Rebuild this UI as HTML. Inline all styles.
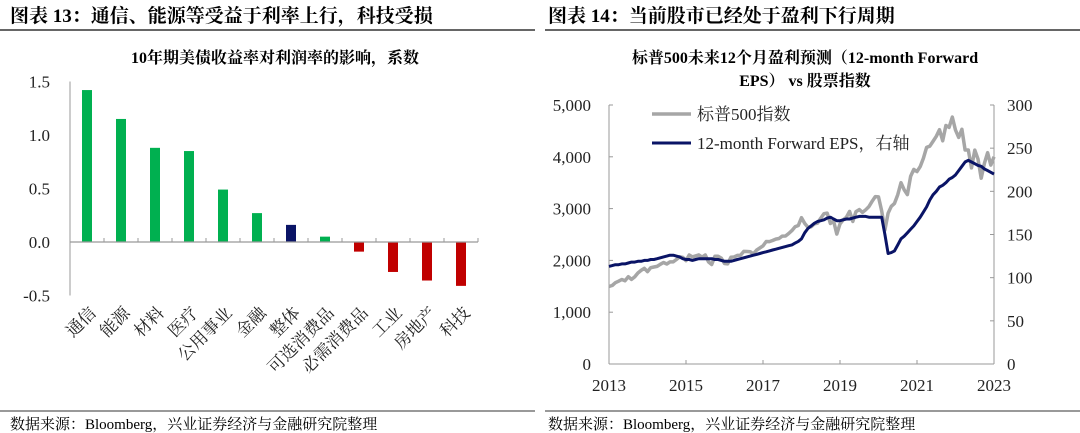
<!DOCTYPE html>
<html><head><meta charset="utf-8"><style>
body{margin:0;background:#fff;width:1080px;height:433px;overflow:hidden}
svg{display:block;font-family:"Liberation Serif","Noto Serif CJK SC",serif}
</style></head><body>
<svg width="1080" height="433" viewBox="0 0 1080 433">
<g>
<text x="10" y="22" font-size="19" font-weight="bold" fill="#000">图表 13：通信、能源等受益于利率上行，科技受损</text>
<line x1="0" y1="30" x2="535" y2="30" stroke="#333" stroke-width="1.5"/>
<text x="275" y="63" font-size="16" font-weight="bold" text-anchor="middle">10年期美债收益率对利润率的影响，系数</text>
<g id="barChart"></g>
<line x1="0" y1="411" x2="535" y2="411" stroke="#333" stroke-width="1"/>
<text x="10" y="429" font-size="15">数据来源：Bloomberg，兴业证券经济与金融研究院整理</text>
</g>
<g>
<text x="548" y="22" font-size="19" font-weight="bold">图表 14：当前股市已经处于盈利下行周期</text>
<line x1="545" y1="30" x2="1080" y2="30" stroke="#333" stroke-width="1.5"/>
<text x="805" y="63" font-size="16" font-weight="bold" text-anchor="middle">标普500未来12个月盈利预测（12-month Forward</text>
<text x="805" y="86" font-size="16" font-weight="bold" text-anchor="middle">EPS） vs 股票指数</text>
<g id="lineChart"></g>
<line x1="545" y1="411" x2="1080" y2="411" stroke="#333" stroke-width="1"/>
<text x="548" y="429" font-size="15">数据来源：Bloomberg，兴业证券经济与金融研究院整理</text>
</g>
</svg>
<script>
const barCategories=["通信","能源","材料","医疗","公用事业","金融","整体","可选消费品","必需消费品","工业","房地产","科技"];
const barValues=[1.42,1.15,0.88,0.85,0.49,0.27,0.16,0.05,-0.09,-0.28,-0.36,-0.41];
const barTicks=[1.5,1.0,0.5,0.0,-0.5];

const years=[2013,2015,2017,2019,2021,2023];
const leftTicks=[0,1000,2000,3000,4000,5000];
const rightTicks=[0,50,100,150,200,250,300];
const spx=[1498,1515,1569,1598,1631,1606,1686,1633,1682,1757,1806,1848,
1783,1859,1872,1884,1924,1960,1931,1972,1972,2018,2068,2059,
1995,2105,2068,2086,2107,2063,2104,1972,1920,2079,2080,2044,
1940,1932,2060,2065,2097,2099,2174,2171,2168,2126,2199,2239,
2279,2364,2363,2384,2412,2423,2470,2472,2519,2575,2648,2674,
2824,2714,2641,2648,2705,2718,2816,2902,2914,2712,2760,2507,
2704,2784,2834,2946,2752,2942,2980,2926,2977,3038,3141,3231,
3226,2954,2585,2912,3044,3100,3271,3500,3363,3270,3622,3756,
3714,3811,3973,4181,4204,4298,4395,4523,4308,4605,4567,4766,
4516,4374,4530,4132,4132,3785,4130,3955,3586,3872,4080,3840,4000];
const eps=[113,114,115,115,116,116,117,118,118,119,119,120,
120,121,121,122,123,124,125,126,126,125,124,122,
121,121,120,121,122,122,122,122,122,121,121,120,
119,119,119,120,121,122,123,124,125,126,127,128,
129,130,131,132,133,134,135,136,137,138,140,142,
145,152,157,160,163,165,166,167,169,170,168,166,
166,167,168,168,169,170,171,171,171,170,170,170,
170,170,150,128,129,131,138,145,148,152,156,160,
165,170,176,182,190,196,200,205,207,210,214,216,
219,224,229,234,236,234,232,230,229,226,224,222,220];

const NS="http://www.w3.org/2000/svg";
function mk(p,t,a){const e=document.createElementNS(NS,t);for(const k in a)e.setAttribute(k,a[k]);p.appendChild(e);return e;}

// Bar chart
(function(){
const g=document.getElementById('barChart');
const x0=70,x1=478,yZero=242,pxPer=107;
const y=v=>yZero-v*pxPer;
const bw=(x1-x0)/barCategories.length;
const ax=mk(g,'line',{x1:x0,y1:y(1.5),x2:x0,y2:y(-0.5),stroke:'#999','stroke-width':1});


barTicks.forEach(t=>{
 const tx=mk(g,'text',{x:x0-20,y:y(t)+6,'font-size':17,'text-anchor':'end',fill:'#222'});
 tx.textContent=t.toFixed(1);
 
 
});
barValues.forEach((v,i)=>{
 const cx=x0+bw*(i+0.5);
 const col=barCategories[i]==="整体"?"#0a1466":(v>=0?"#00b050":"#c00000");
 const r=mk(g,'rect',{x:cx-5,y:Math.min(y(v),yZero),width:10,height:Math.abs(y(v)-yZero),fill:col});
 
 
 const lb=mk(g,'text',{x:0,y:0,'font-size':17,'text-anchor':'end',fill:'#222'});
 lb.setAttribute('transform',`translate(${cx+10},${314}) rotate(-45)`);
 lb.textContent=barCategories[i];
 
 
});
const xa=mk(g,'line',{x1:x0,y1:yZero,x2:x1,y2:yZero,stroke:'#999','stroke-width':1.2});


for(let i=0;i<=barCategories.length;i++){
 const tk=mk(g,'line',{x1:x0+bw*i,y1:yZero,x2:x0+bw*i,y2:yZero-4,stroke:'#999'});
 
 
}
})();

// Line chart
(function(){
const g=document.getElementById('lineChart');
const X0=609,X1=994,Y0=364,Y1=105;
const xs=t=>X0+(t-2013)/10*(X1-X0);
const yl=v=>Y0-v/5000*(Y0-Y1);
const yr=v=>Y0-v/300*(Y0-Y1);
const a1=mk(g,'line',{x1:X0,y1:Y1,x2:X0,y2:Y0,stroke:'#999'});

const a2=mk(g,'line',{x1:X1,y1:Y1,x2:X1,y2:Y0,stroke:'#999'});

const a3=mk(g,'line',{x1:X0,y1:Y0,x2:X1,y2:Y0,stroke:'#999'});

leftTicks.forEach(t=>{
 mk(g,'line',{x1:X0,y1:yl(t),x2:X0+4,y2:yl(t),stroke:'#999'});
 const tx=mk(g,'text',{x:X0-18,y:yl(t)+6,'font-size':17,'text-anchor':'end',fill:'#222'});
 tx.textContent=t.toLocaleString('en-US');
 
});
rightTicks.forEach(t=>{
 mk(g,'line',{x1:X1,y1:yr(t),x2:X1-4,y2:yr(t),stroke:'#999'});
 const tx=mk(g,'text',{x:X1+13,y:yr(t)+6,'font-size':17,fill:'#222'});
 tx.textContent=t;
 
});
years.forEach(yv=>{
 mk(g,'line',{x1:xs(yv),y1:Y0,x2:xs(yv),y2:Y0-4,stroke:'#999'});
 const tx=mk(g,'text',{x:xs(yv),y:Y0+27,'font-size':17,'text-anchor':'middle',fill:'#222'});
 tx.textContent=yv;
 
});
const n=spx.length;
const p1=spx.map((v,i)=>`${xs(2013+i/(n-1)*10).toFixed(1)},${yl(v).toFixed(1)}`).join(' ');
const l1=mk(g,'polyline',{points:p1,fill:'none',stroke:'#a6a6a6','stroke-width':3.5,'stroke-linejoin':'round'});

const m=eps.length;
const p2=eps.map((v,i)=>`${xs(2013+i/(m-1)*10).toFixed(1)},${yr(v).toFixed(1)}`).join(' ');
const l2=mk(g,'polyline',{points:p2,fill:'none',stroke:'#0a1466','stroke-width':3,'stroke-linejoin':'round'});

const lg1=mk(g,'line',{x1:652,y1:114,x2:691,y2:114,stroke:'#a6a6a6','stroke-width':3.5});

const lt1=mk(g,'text',{x:697,y:120,'font-size':17,fill:'#222'});lt1.textContent='标普500指数';

const lg2=mk(g,'line',{x1:652,y1:143,x2:691,y2:143,stroke:'#0a1466','stroke-width':3});

const lt2=mk(g,'text',{x:697,y:149,'font-size':17,fill:'#222'});lt2.textContent='12-month Forward EPS，右轴';

})();
</script>
</body></html>
